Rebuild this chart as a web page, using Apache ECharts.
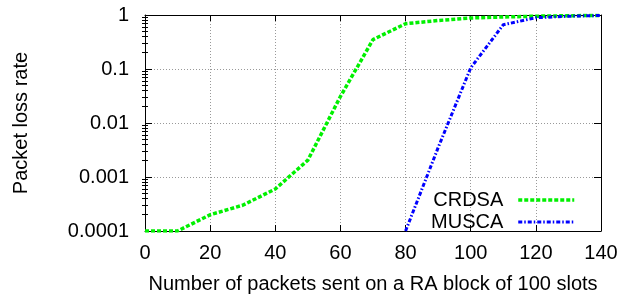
<!DOCTYPE html>
<html>
<head>
<meta charset="utf-8">
<script src="https://cdn.jsdelivr.net/npm/echarts@6/dist/echarts.min.js"></script>
<style>html,body{margin:0;padding:0;background:#fff;}#c{width:623px;height:299px;}</style>
</head>
<body>
<div id="c"></div>
<script>
// Data
var xValues = [0, 10, 20, 30, 40, 50, 60, 70, 80, 90, 100, 110, 120, 130, 140];
var crdsa = [0.0001, 0.0001, 0.0002, 0.0003, 0.0006, 0.00205, 0.031, 0.35, 0.69, 0.79, 0.88, 0.92, 0.95, 0.97, 0.98];
var musca = [null, null, null, null, null, null, null, null, 0.0001, 0.0035, 0.105, 0.66, 0.89, 0.95, 0.98];
var yTickValues = [0.0001, 0.001, 0.01, 0.1, 1];
var yTickLabels = ['0.0001', '0.001', '0.01', '0.1', '1'];
var yMinorValues = [];
[0.0001, 0.001, 0.01, 0.1].forEach(function (d) {
  for (var k = 2; k <= 9; k++) yMinorValues.push(+(d * k).toPrecision(3));
});

function pairs(ys) {
  var out = [];
  for (var i = 0; i < xValues.length; i++) if (ys[i] != null) out.push([xValues[i], ys[i]]);
  return out;
}

var font = 'Liberation Sans, Arial, sans-serif';
var chart = echarts.init(document.getElementById('c'));
var baseY = {
  type: 'log', logBase: 10, min: 0.0001, max: 1,
  axisLabel: { show: false }, splitLine: { show: false },
  axisLine: { show: false }
};
chart.setOption({
  animation: false,
  grid: { left: 145, right: 22, top: 15, bottom: 66 },
  legend: {
    orient: 'vertical', right: 42, top: 185, align: 'right',
    itemWidth: 56, itemHeight: 12, itemGap: 2,
    itemStyle: { opacity: 0 },
    textStyle: { fontFamily: font, fontSize: 20, color: '#000', padding: [0, 10, 0, 0] },
    data: [
      { name: 'CRDSA', lineStyle: { width: 3.5 } },
      { name: 'MUSCA', lineStyle: { width: 3 } }
    ]
  },
  xAxis: [{
    type: 'value', min: 0, max: 140, interval: 20,
    name: 'Number of packets sent on a RA block of 100 slots',
    nameLocation: 'middle', nameGap: 43,
    nameTextStyle: { fontFamily: font, fontSize: 20, color: '#000' },
    axisLine: { show: true, onZero: false, lineStyle: { color: '#000', width: 1 } },
    axisTick: { show: true, inside: true, length: 6, lineStyle: { color: '#000' } },
    axisLabel: { fontFamily: font, fontSize: 20, color: '#000', margin: 12 },
    splitLine: { show: true, lineStyle: { color: '#999', type: [1, 2], width: 1 } }
  }, {
    type: 'value', min: 0, max: 140, interval: 20, position: 'top',
    axisLine: { show: true, onZero: false, lineStyle: { color: '#000', width: 1 } },
    axisTick: { show: true, inside: true, length: 6, lineStyle: { color: '#000' } },
    axisLabel: { show: false }, splitLine: { show: false }
  }],
  yAxis: [{
    type: 'log', logBase: 10, min: 0.0001, max: 1,
    name: 'Packet loss rate', nameLocation: 'middle', nameGap: 114,
    nameTextStyle: { fontFamily: font, fontSize: 20, color: '#000' },
    axisLine: { show: true, onZero: false, lineStyle: { color: '#000', width: 1 } },
    axisTick: { show: true, inside: true, length: 7, lineStyle: { color: '#000' } },
    axisLabel: {
      fontFamily: font, fontSize: 20, color: '#000', margin: 16,
      formatter: function (v) {
        for (var i = 0; i < yTickValues.length; i++) if (Math.abs(Math.log10(v) - Math.log10(yTickValues[i])) < 1e-6) return yTickLabels[i];
        return '';
      }
    },
    splitLine: { show: true, lineStyle: { color: '#999', type: [1, 2], width: 1 } }
  },
  Object.assign({}, baseY, { position: 'left',
    axisTick: { show: true, inside: true, length: 3, customValues: yMinorValues, lineStyle: { color: '#000' } } }),
  Object.assign({}, baseY, { position: 'right', axisLine: { show: true, onZero: false, lineStyle: { color: '#000', width: 1 } },
    axisTick: { show: true, inside: true, length: 7, lineStyle: { color: '#000' } } }),
  Object.assign({}, baseY, { position: 'right',
    axisTick: { show: true, inside: true, length: 3, customValues: yMinorValues, lineStyle: { color: '#000' } } })
  ],
  series: [{
    name: 'CRDSA', type: 'line', data: pairs(crdsa), symbol: 'none',
    itemStyle: { color: '#00f000' },
    lineStyle: { color: '#00f000', width: 3.5, type: [4, 2] }, z: 3
  }, {
    name: 'MUSCA', type: 'line', data: pairs(musca), symbol: 'none',
    itemStyle: { color: '#0000ff' },
    lineStyle: { color: '#0000ff', width: 3, type: [4, 2, 1.5, 2] }, z: 4
  }]
});
</script>
</body>
</html>
